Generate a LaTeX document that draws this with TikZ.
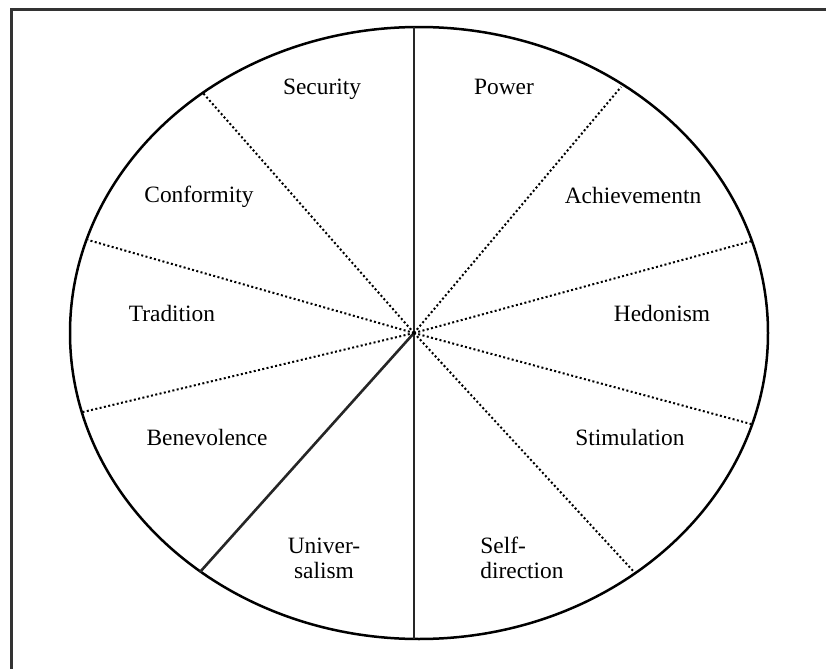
\documentclass[tikz,border=0pt]{standalone}
\usepackage{fontspec}
\setmainfont{Liberation Serif}
\usepackage{tikz}
\usetikzlibrary{positioning, calc}

\begin{document}
\begin{tikzpicture}[x=0.5pt, y=-0.5pt,
    lbl/.style={inner sep=1pt, font=\fontsize{11.7}{12.5}\selectfont, align=center},
    border/.style={line width=1.5pt, draw=black!80},
    wall/.style={line width=1.3pt, draw=black!85},
    divide/.style={line width=1pt, dash pattern=on 1pt off 1.2pt}]
      \useasboundingbox (0,0) rectangle (826,669);
      % frame
      \draw[border] (11,669) -- (11,9) -- (826,9);
      % circle of values
      \draw[line width=1.25pt] (419,333) ellipse [x radius=349, y radius=306];
      \coordinate (c) at (414,333);
      \coordinate (top) at (414,27);
      \coordinate (bottom) at (414,639);
      \coordinate (sw) at (200,572);
      \coordinate (d1) at (203,93);
      \coordinate (d2) at (621,87);
      \coordinate (d3) at (88,240);
      \coordinate (d4) at (752,241);
      \coordinate (d5) at (83,412);
      \coordinate (d6) at (751,424);
      \coordinate (d7) at (635,573);
      \draw[wall] (top) -- (bottom);
      \draw[wall] (c) -- (sw);
      \foreach \p in {d1,d2,d3,d4,d5,d6,d7}
        \draw[divide] (c) -- (\p);
      % labels
      \node[lbl] (security) at (322,89) {Security};
      \node[lbl] (power) at (504,87) {Power};
      \node[lbl] (conformity) at (199,197) {Conformity};
      \node[lbl] (achievement) at (633,195) {Achievementn};
      \node[lbl] (tradition) at (172,313) {Tradition};
      \node[lbl] (hedonism) at (662,313) {Hedonism};
      \node[lbl] (benevolence) at (207,437) {Benevolence};
      \node[lbl] (stimulation) at (630,437) {Stimulation};
      \node[lbl] (universalism) at (324,558) {Univer-\\salism};
      \node[lbl, align=left] (selfdirection) at (522,558) {Self-\\direction};
\end{tikzpicture}
\end{document}
